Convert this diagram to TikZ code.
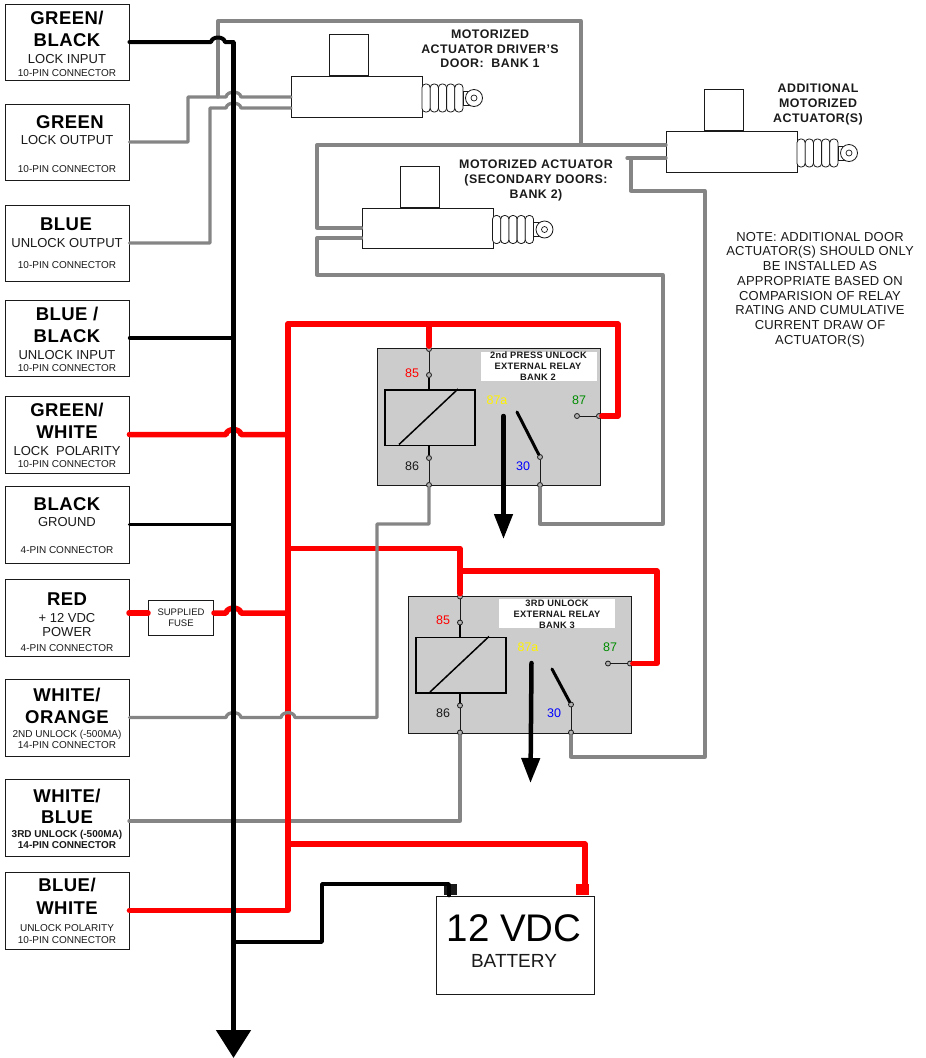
\documentclass[tikz,border=0pt]{standalone}
\usepackage{fontspec}
\setmainfont{Liberation Sans}
\usetikzlibrary{arrows.meta,calc}
\newcommand{\fs}[1]{\fontsize{#1}{#1}\selectfont}
\newcommand{\ls}[1]{\addfontfeature{LetterSpace=#1}}
\definecolor{wiregray}{HTML}{858585}
\definecolor{wirered}{HTML}{FF0000}
\definecolor{ink}{HTML}{1A1A1A}
\tikzset{
  conbox/.style={draw=ink,line width=0.9pt,fill=white,rectangle,inner sep=0pt,minimum width=124pt},
  title/.style={anchor=base,inner sep=0pt,text=black,font={\fs{18.5}\bfseries\ls{2.5}}},
  sub/.style={anchor=base,inner sep=0pt,text=ink,font={\fs{13}}},
  pin/.style={anchor=base,inner sep=0pt,text=ink,font={\fs{10}}},
  pinb/.style={anchor=base,inner sep=0pt,text=ink,font={\fs{10}\bfseries}},
  head/.style={anchor=base,inner sep=0pt,text=ink,align=center,font={\fs{12.4}\bfseries\ls{3.8}}},
  wg/.style={draw=wiregray,line width=3.3pt,line join=round,line cap=round},
  wr/.style={draw=wirered,line width=5.5pt,line join=round,line cap=round},
  wk/.style={draw=black,line width=3.6pt,line join=round,line cap=round},
  part/.style={draw=ink,line width=1pt,fill=white,rectangle,inner sep=0pt},
  term/.style={draw=ink,circle,line width=0.8pt,fill=gray!60,inner sep=0pt,minimum size=5pt},
  relnum/.style={anchor=base,inner sep=0pt,font={\fs{12.5}}},
  rellab/.style={anchor=base,inner sep=0pt,text=ink,font={\fs{9.3}\bfseries\ls{3}}},
  bigarrow/.style={draw=black,line cap=round,-{Triangle[width=18pt,length=25pt]},line width=4.5pt},
}
% actuator: name, body-left x, body-top y
\newcommand{\actuator}[3]{%
  \node[part,anchor=south west,minimum width=39pt,minimum height=41pt] (#1top) at (#2+38,#3) {};
  \node[part,anchor=north west,minimum width=131pt,minimum height=40.5pt] (#1) at (#2,#3) {};
  \foreach \i in {0,...,4} {
    \draw[draw=ink,line width=0.8pt,fill=white,rounded corners=3.6pt] (#2+131+8.2*\i,#3+8) rectangle ++(8.2,28);
  }
  \draw[draw=ink,line width=0.8pt,fill=white] (#2+172,#3+15) rectangle (#2+180,#3+29);
  \draw[draw=ink,line width=0.8pt,fill=white] (#2+183,#3+22) circle[radius=8.5pt];
  \draw[draw=ink,line width=0.7pt] (#2+183,#3+22) circle[radius=3pt];
}
% relay: name, box-left x, box-top y
\newcommand{\relay}[3]{%
  \node[draw=ink,line width=1pt,fill=black!20,rectangle,inner sep=0pt,anchor=north west,minimum width=223pt,minimum height=137pt] (#1) at (#2,#3) {};
  \node[draw=black,line width=1.6pt,rectangle,inner sep=0pt,anchor=north west,minimum width=90pt,minimum height=55.5pt] (#1coil) at (#2+7,#3+41) {};
  \draw[black,line width=1.5pt] (#2+22,#3+96.5) -- (#2+81,#3+41);
  \node[term] (#1a) at (#2+52,#3+1) {};
  \node[term] (#1b) at (#2+52,#3+27) {};
  \node[term] (#1c) at (#2+52,#3+110) {};
  \node[term] (#1d) at (#2+52,#3+137) {};
  \node[term] (#1e) at (#2+200,#3+68) {};
  \node[term] (#1f) at (#2+222,#3+68) {};
  \node[term] (#1g) at (#2+163,#3+109) {};
  \node[term] (#1h) at (#2+163,#3+137) {};
  \draw[ink,line width=0.9pt] (#1a) -- (#1b);
  \draw[black,line width=1.5pt] (#1b) -- (#1coil.north -| #1b);
  \draw[black,line width=1.5pt] (#1coil.south -| #1c) -- (#1c);
  \draw[ink,line width=0.9pt] (#1c) -- (#1d);
  \draw[ink,line width=0.9pt] (#1e) -- (#1f);
  \draw[ink,line width=0.9pt] (#1g) -- (#1h);
  \node[relnum,text=red] (#1n85) at (#2+35,#3+29) {85};
  \node[relnum,text=ink] (#1n86) at (#2+35,#3+122) {86};
  \node[relnum,text=yellow] (#1n87a) at (#2+120,#3+56) {87a};
  \node[relnum,text=green!55!black] (#1n87) at (#2+202,#3+56) {87};
  \node[relnum,text=blue] (#1n30) at (#2+146,#3+122) {30};
}
\begin{document}
\begin{tikzpicture}[x=1pt,y=-1pt]
\useasboundingbox (0,0) rectangle (926,1058);
% ---------- connector boxes
\node[conbox,minimum height=76pt] (b1) at (67,42) {};
\node[conbox,minimum height=76pt] (b2) at (67,142) {};
\node[conbox,minimum height=76pt] (b3) at (67,243) {};
\node[conbox,minimum height=76pt] (b4) at (67,338) {};
\node[conbox,minimum height=77pt] (b5) at (67,434.5) {};
\node[conbox,minimum height=77pt] (b6) at (67,524.5) {};
\node[conbox,minimum height=77pt] (b7) at (67,617.5) {};
\node[conbox,minimum height=77pt] (b8) at (67,717.5) {};
\node[conbox,minimum height=77pt] (b9) at (67,817.5) {};
\node[conbox,minimum height=77pt] (b10) at (67,910.5) {};
\node[title] (b1t1) at (67,24.5) {GREEN/};
\node[title] (b1t2) at (67,46) {BLACK};
\node[sub] (b1t3) at (67,63) {LOCK INPUT};
\node[pin] (b1t4) at (67,76) {10-PIN CONNECTOR};
\node[title] (b2t1) at (70,128) {GREEN};
\node[sub] (b2t2) at (67,144) {LOCK OUTPUT};
\node[pin] (b2t3) at (67,172) {10-PIN CONNECTOR};
\node[title] (b3t1) at (66,230) {BLUE};
\node[sub] (b3t2) at (67,247) {UNLOCK OUTPUT};
\node[pin] (b3t3) at (67,268) {10-PIN CONNECTOR};
\node[title] (b4t1) at (67,320.5) {BLUE /};
\node[title] (b4t2) at (67,342) {BLACK};
\node[sub] (b4t3) at (67,359) {UNLOCK INPUT};
\node[pin] (b4t4) at (67,371) {10-PIN CONNECTOR};
\node[title] (b5t1) at (67,416.5) {GREEN/};
\node[title] (b5t2) at (67,438) {WHITE};
\node[sub] (b5t3) at (67,455) {LOCK\ \ POLARITY};
\node[pin] (b5t4) at (67,467) {10-PIN CONNECTOR};
\node[title] (b6t1) at (67,510) {BLACK};
\node[sub] (b6t2) at (67,526) {GROUND};
\node[pin] (b6t3) at (67,553) {4-PIN CONNECTOR};
\node[title] (b7t1) at (67,605) {RED};
\node[sub] (b7t2) at (67,622) {+ 12 VDC};
\node[sub] (b7t3) at (67,636) {POWER};
\node[pin] (b7t4) at (67,651) {4-PIN CONNECTOR};
\node[title] (b8t1) at (67,701) {WHITE/};
\node[title] (b8t2) at (67,723) {ORANGE};
\node[pin] (b8t3) at (67,737) {2ND UNLOCK (-500MA)};
\node[pin] (b8t4) at (67,748) {14-PIN CONNECTOR};
\node[title] (b9t1) at (67,802) {WHITE/};
\node[title] (b9t2) at (67,823) {BLUE};
\node[pinb] (b9t3) at (67,837) {3RD UNLOCK (-500MA)};
\node[pinb] (b9t4) at (67,848) {14-PIN CONNECTOR};
\node[title] (b10t1) at (67,891) {BLUE/};
\node[title] (b10t2) at (67,914) {WHITE};
\node[pin] (b10t3) at (67,931) {UNLOCK POLARITY};
\node[pin] (b10t4) at (67,943) {10-PIN CONNECTOR};
% ---------- actuators
\actuator{a1}{291}{76}
\actuator{a2}{361.5}{207.5}
\actuator{a3}{666}{131}
\node[head] (a1l1) at (490,38.5) {MOTORIZED};
\node[head] (a1l2) at (490,53) {ACTUATOR DRIVER'S};
\node[head] (a1l3) at (490,67.5) {DOOR:\ \ BANK 1};
\node[head] (a2l1) at (536,168) {MOTORIZED ACTUATOR};
\node[head] (a2l2) at (536,183) {(SECONDARY DOORS:};
\node[head] (a2l3) at (536,198) {BANK 2)};
\node[head] (a3l1) at (818,92) {ADDITIONAL};
\node[head] (a3l2) at (818,107) {MOTORIZED};
\node[head] (a3l3) at (818,122) {ACTUATOR(S)};
\node[anchor=north,inner sep=0pt,text=ink,align=center,font={\fontsize{13}{14.7}\selectfont\ls{1.5}}] (note) at (820,232)
  {NOTE: ADDITIONAL DOOR\\ACTUATOR(S) SHOULD ONLY\\BE INSTALLED AS\\APPROPRIATE BASED ON\\COMPARISION OF RELAY\\RATING AND CUMULATIVE\\CURRENT DRAW OF\\ACTUATOR(S)};
% ---------- relays
\relay{r1}{377}{348}
\relay{r2}{408}{595.5}
\node[fill=white,inner sep=0pt,anchor=north west,minimum width=116pt,minimum height=29pt] (r1lab) at (481,352) {};
\node[rellab] (r1l1) at (538.5,358) {2nd PRESS UNLOCK};
\node[rellab] (r1l2) at (538,369) {EXTERNAL RELAY};
\node[rellab] (r1l3) at (538,380) {BANK 2};
\node[fill=white,inner sep=0pt,anchor=north west,minimum width=116pt,minimum height=29pt] (r2lab) at (499,599) {};
\node[rellab] (r2l1) at (557,606) {3RD UNLOCK};
\node[rellab] (r2l2) at (557,617) {EXTERNAL RELAY};
\node[rellab] (r2l3) at (557,628) {BANK 3};
% ---------- battery and fuse
\node[part,draw=ink,anchor=north west,minimum width=158pt,minimum height=98pt] (bat) at (436,895.5) {};
\node[inner sep=0pt,anchor=base,text=black,font={\fs{38.5}}] (batv) at (514,941) {12 VDC};
\node[inner sep=0pt,anchor=base,text=ink,font={\fs{19}}] (batb) at (514,967) {BATTERY};
\node[fill=ink,inner sep=0pt,anchor=south,minimum width=13pt,minimum height=11.5pt] (neg) at (450,895.5) {};
\node[fill=wirered,inner sep=0pt,anchor=south,minimum width=13pt,minimum height=11.5pt] (pos) at (582.5,895.5) {};
\node[part,anchor=north west,minimum width=65pt,minimum height=35pt,align=center,text=ink,font={\fontsize{9.5}{11}\selectfont}] (fuse) at (148,600) {SUPPLIED\\FUSE};
% ---------- named wiring points
\coordinate (b7e) at (129,613);
\coordinate (b9e) at (129,821);
\coordinate (bustop) at (233.5,42);
\coordinate (busend) at (233.5,1058);
\coordinate (rbT) at (288,324);
\coordinate (rbB) at (288,910.5);
% white/blue wire runs under the buses
\draw[wg] (b9e) -- (r2d |- b9e) -- (r2d);
% red wiring
\draw[wr] (rbT) -- (rbB) -- (b10.east);
\draw[wr] (rbT) -- (618,324) -- (618,416) -- (r1f);
\draw[wr] (429,324) -- (r1a);
\draw[wr] (288,548.5) -- (460,548.5) -- (r2a);
\draw[wr] (460,571) -- (657,571) -- (657,663.5) -- (r2f);
\draw[wr] (288,844) -- (585,844) -- (pos.north -| 585,844);
\draw[wr] (b5.east) -- (226,434.5) .. controls (227,428) and (240,428) .. (241,434.5) -- (288,434.5);
\draw[wr] (b7e) -- (fuse.west |- b7e);
\draw[wr] (fuse.east |- b7e) -- (226,613) .. controls (227,606.5) and (240,606.5) .. (241,613) -- (288,613);
% grey wiring
\draw[wg] (218,97) -- (218,21) -- (581,21) -- (581,145);
\draw[wg] (a3.west |- 0,145) -- (317,145) -- (317,228) -- (a2.west |- 0,228);
\draw[wg] (a2.west |- 0,238) -- (317,238) -- (317,275) -- (663,275) -- (663,524) -- (540,524) -- (r1h);
\draw[wg] (a3.west |- 0,158) -- (627,158);
\draw[wg] (631,158) -- (631,191) -- (705,191) -- (705,757) -- (571,757) -- (r2h);
\draw[wg] (b2.east) -- (188,142) -- (188,97) -- (226,97) .. controls (227,90.5) and (240,90.5) .. (241,97) -- (a1.west |- 0,97);
\draw[wg] (b3.east) -- (210,243) -- (210,108) -- (226,108) .. controls (227,101.5) and (240,101.5) .. (241,108) -- (a1.west |- 0,108);
\draw[wg] (b8.east) -- (226,717.5) .. controls (227,711) and (240,711) .. (241,717.5) -- (281,717.5) .. controls (282,711) and (294,711) .. (295,717.5) -- (377,717.5) -- (377,524) -- (429,524) -- (r1d);
% black wiring
\draw[wk,line width=3.2pt] (b4.east) -- (bustop |- b4.east);
\draw[wk,line width=3pt] (b6.east) -- (bustop |- b6.east);
\draw[wk,line width=4pt] (b1.east) -- (211,42) .. controls (212,36) and (224,36) .. (225,42) -- (bustop);
\draw[draw=black,line width=5pt,-{Triangle[width=34pt,length=28pt]}] (bustop) -- (busend);
\draw[wk] (bustop |- 0,942) -- (322,942) -- (322,884) -- (449,884) -- (neg.south -| 449,884);
% relay switch contacts
\coordinate (r1k) at (503.5,416);
\coordinate (r2k) at (531.5,663);
\draw[bigarrow] (r1k) -- (503.5,539);
\draw[black,line width=3pt,line cap=round] (517,412) -- (r1g);
\draw[bigarrow] (r2k) -- (530.5,783);
\draw[black,line width=3pt,line cap=round] (552,669) -- (r2g);
\end{tikzpicture}
\end{document}
